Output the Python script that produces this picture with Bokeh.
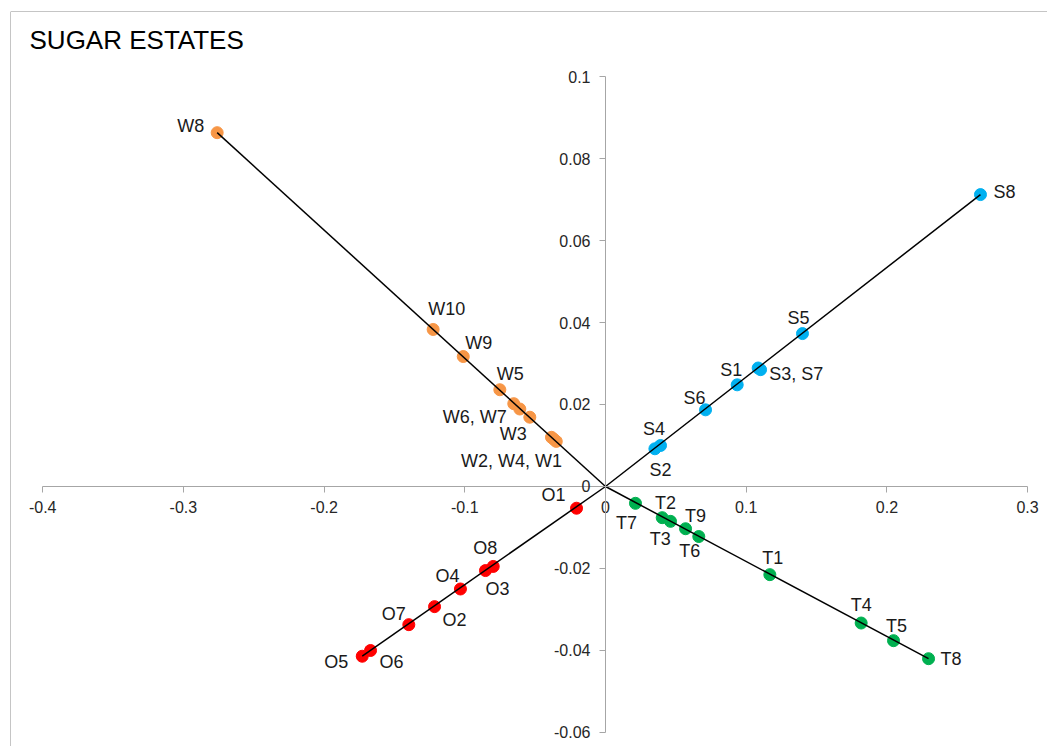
from bokeh.plotting import figure
from bokeh.models import ColumnDataSource, LinearAxis, FixedTicker, Span, Range1d, Label
from bokeh.core.properties import value
from bokeh.embed import file_html
from bokeh.resources import INLINE

# ---------------- data ----------------
w_names = ["W8", "W10", "W9", "W5", "W6", "W7", "W3", "W2", "W4", "W1"]
w_x = [-0.2760, -0.1225, -0.1011, -0.0751, -0.0652, -0.0609, -0.0538, -0.0384, -0.0367, -0.0350]
w_y = [0.0863, 0.0383, 0.0317, 0.0236, 0.0202, 0.0189, 0.0169, 0.0120, 0.0115, 0.0110]
w_labels = ["W8", "W10", "W9", "W5", "W6, W7", "", "W3", "W2, W4, W1", "", ""]

s_names = ["S8", "S5", "S3", "S7", "S1", "S6", "S4", "S2"]
s_x = [0.2665, 0.1400, 0.1085, 0.1102, 0.0936, 0.0711, 0.0351, 0.0391]
s_y = [0.0712, 0.0373, 0.0289, 0.0285, 0.0248, 0.0187, 0.0092, 0.0100]
s_labels = ["S8", "S5", "S3, S7", "", "S1", "S6", "S4", "S2"]

t_names = ["T7", "T3", "T2", "T9", "T6", "T1", "T4", "T5", "T8"]
t_x = [0.0213, 0.0403, 0.0462, 0.0569, 0.0663, 0.1168, 0.1817, 0.2047, 0.2296]
t_y = [-0.0041, -0.0076, -0.0085, -0.0103, -0.0122, -0.0215, -0.0333, -0.0376, -0.0420]
t_labels = ["T7", "T3", "T2", "T9", "T6", "T1", "T4", "T5", "T8"]

o_names = ["O1", "O3", "O8", "O4", "O2", "O7", "O6", "O5"]
o_x = [-0.0206, -0.0853, -0.0798, -0.1031, -0.1215, -0.1398, -0.1670, -0.1729]
o_y = [-0.0053, -0.0205, -0.0195, -0.0250, -0.0293, -0.0337, -0.0400, -0.0414]
o_labels = ["O1", "O3", "O8", "O4", "O2", "O7", "O6", "O5"]

x_ticks = [-0.4, -0.3, -0.2, -0.1, 0.0, 0.1, 0.2, 0.3]
x_tick_labels = ["-0.4", "-0.3", "-0.2", "-0.1", "0", "0.1", "0.2", "0.3"]
y_ticks = [-0.06, -0.04, -0.02, 0.0, 0.02, 0.04, 0.06, 0.08, 0.1]
y_tick_labels = ["-0.06", "-0.04", "-0.02", "0", "0.02", "0.04", "0.06", "0.08", "0.1"]

title_text = "SUGAR ESTATES"

# ---------------- styles ----------------
series = [
    (w_names, w_x, w_y, w_labels, "#F79646"),
    (s_names, s_x, s_y, s_labels, "#00B0F0"),
    (t_names, t_x, t_y, t_labels, "#00B050"),
    (o_names, o_x, o_y, o_labels, "#FF0000"),
]

# label placement (pixel offsets from the point, alignment)
label_pos = {
    "W8": (-13, -7, "right"), "W10": (-5, -20, "left"), "W9": (2, -14, "left"),
    "W5": (-3, -16, "left"), "W6": (-7, 13, "right"), "W3": (-3, 17, "right"),
    "W2": (-40, 24, "center"),
    "S8": (13, -3, "left"), "S5": (-4, -16, "center"), "S3": (11, 6, "left"),
    "S1": (-6, -15, "center"), "S6": (-11, -12, "center"), "S4": (-1, -20, "center"),
    "S2": (0, 25, "center"),
    "T7": (-9, 20, "center"), "T3": (-2, 21, "center"), "T2": (-5, -18, "center"),
    "T9": (10, -13, "center"), "T6": (-9, 14, "center"), "T1": (3, -17, "center"),
    "T4": (0, -18, "center"), "T5": (3, -15, "center"), "T8": (12, 0, "left"),
    "O1": (-11, -13, "right"), "O3": (0, 18, "left"), "O8": (-8, -18, "center"),
    "O4": (-13, -13, "center"), "O2": (8, 13, "left"), "O7": (-15, -11, "center"),
    "O6": (9, 12, "left"), "O5": (-14, 6, "right"),
}

FONT = value("Liberation Sans")

p = figure(width=1047, height=746, output_backend="svg", toolbar_location=None,
           x_range=Range1d(-0.42289, 0.31414), y_range=Range1d(-0.063415, 0.115854),
           x_axis_location=None, y_axis_location=None,
           min_border_left=10, min_border_top=11, min_border_right=0, min_border_bottom=0,
           outline_line_color=None, background_fill_color="white", border_fill_color="white")
p.grid.visible = False

# outer chart border (top / left visible)
p.add_layout(Span(location=p.x_range.start, dimension="height", line_color="#8c8c8c", line_width=1))
p.add_layout(Span(location=p.y_range.end, dimension="width", line_color="#8c8c8c", line_width=1))

# axes crossing at origin
xaxis = LinearAxis(fixed_location=0, bounds=(x_ticks[0], x_ticks[-1]),
                   ticker=FixedTicker(ticks=x_ticks),
                   major_label_overrides={t: l for t, l in zip(x_ticks, x_tick_labels)})
yaxis = LinearAxis(fixed_location=0, bounds=(y_ticks[0], y_ticks[-1]),
                   ticker=FixedTicker(ticks=y_ticks),
                   major_label_overrides={t: l for t, l in zip(y_ticks, y_tick_labels)})
for ax in (xaxis, yaxis):
    ax.axis_line_color = "#a6a6a6"
    ax.major_tick_line_color = "#a6a6a6"
    ax.minor_tick_line_color = None
    ax.major_tick_in = 0
    ax.major_tick_out = 6
    ax.major_label_text_font = "Liberation Sans"
    ax.major_label_text_font_size = "16px"
    ax.major_label_text_color = "#262626"
xaxis.major_label_standoff = 9
yaxis.major_label_standoff = 9
p.add_layout(xaxis, "below")
p.add_layout(yaxis, "left")

# points, then lines from origin to the extreme point of each series
for names, xs, ys, labels, color in series:
    src = ColumnDataSource(dict(x=xs, y=ys, name=names))
    p.scatter("x", "y", source=src, size=12, fill_color=color, line_color=color)

for names, xs, ys, labels, color in series:
    far = max(range(len(xs)), key=lambda i: xs[i] ** 2 + (ys[i] * 4.35) ** 2)
    p.line([0, xs[far]], [0, ys[far]], line_color="black", line_width=1.5)

for names, xs, ys, labels, color in series:
    for align in ("left", "center", "right"):
        lx, ly, lt, dx, dy = [], [], [], [], []
        for n, x, y, lab in zip(names, xs, ys, labels):
            if not lab:
                continue
            ox, oy, a = label_pos[n]
            if a != align:
                continue
            lx.append(x); ly.append(y); lt.append(lab); dx.append(ox); dy.append(oy)
        if not lx:
            continue
        src = ColumnDataSource(dict(x=lx, y=ly, text=lt, dx=dx, dy=dy))
        p.text("x", "y", text="text", source=src, x_offset="dx", y_offset="dy",
               text_align=align, text_baseline="middle", text_font=FONT,
               text_font_size="18px", text_color="#1a1a1a")

p.add_layout(Label(x=-0.40938, y=0.10902, text=title_text, text_font="Liberation Sans",
                   text_font_size="26px", text_color="#000000", text_baseline="middle",
                   text_align="left"))

open("out.html", "w").write(file_html(p, INLINE))
